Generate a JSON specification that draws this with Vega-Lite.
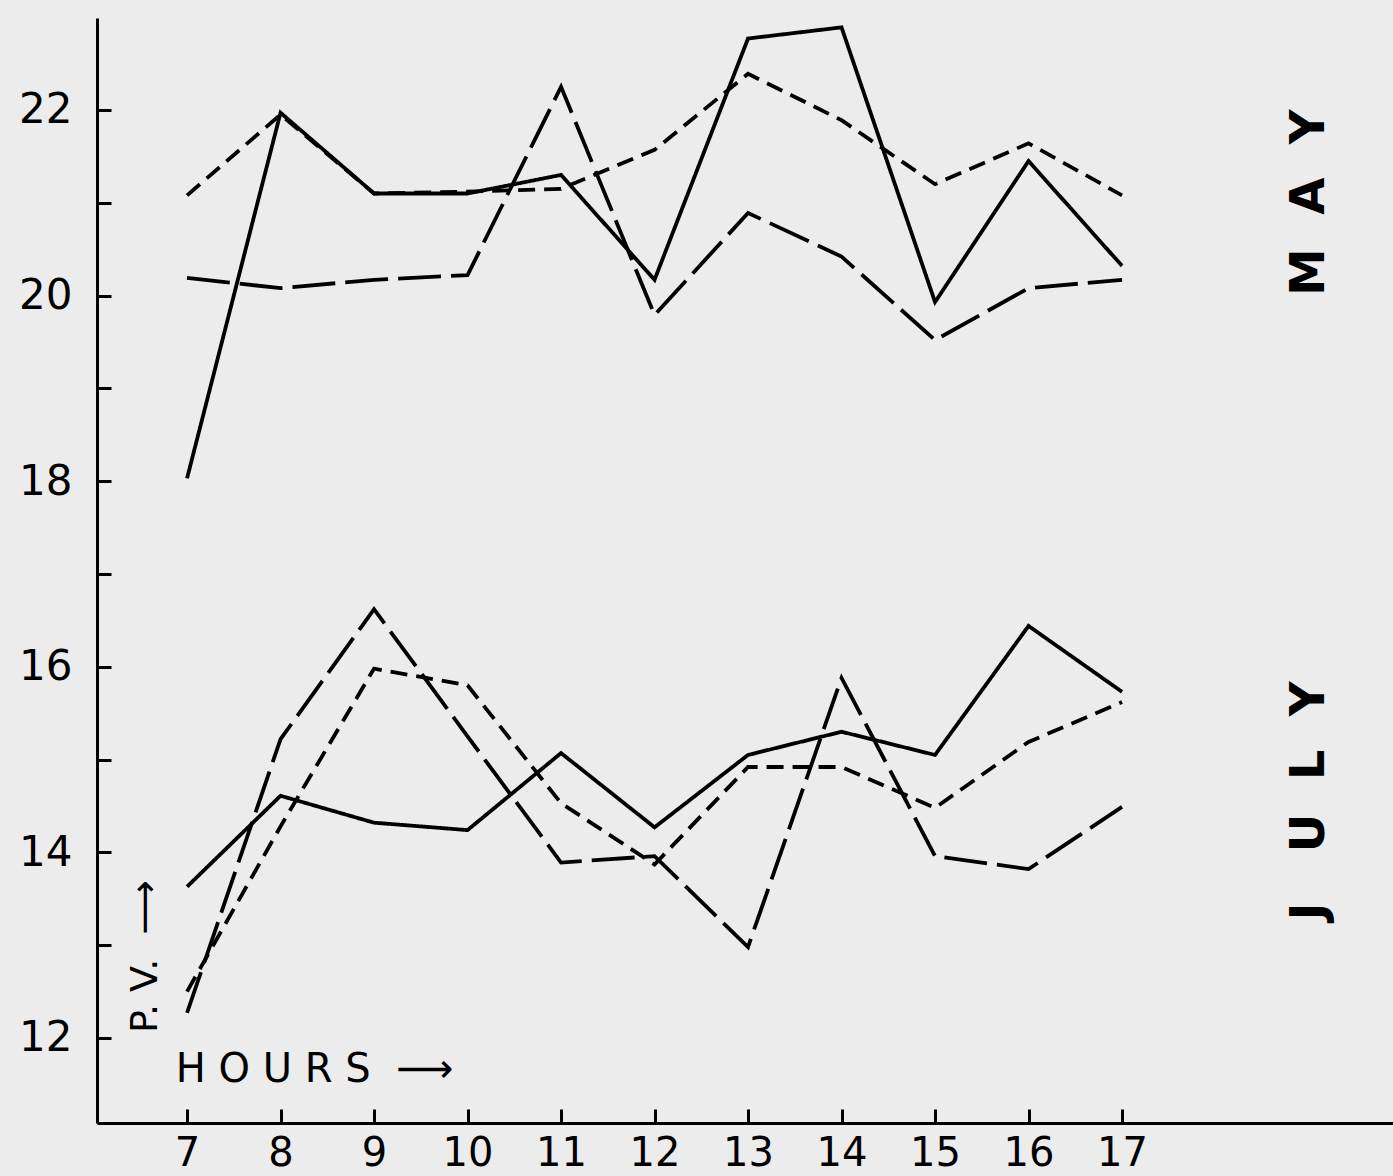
{
  "$schema": "https://vega.github.io/schema/vega-lite/v6.json",
  "width": 1296,
  "height": 1105,
  "autosize": {"type": "none"},
  "padding": {"left": 97, "top": 18, "right": 0, "bottom": 53},
  "background": "#ececec",
  "config": {"view": {"stroke": null}, "font": "DejaVu Sans"},
  "data": {"values": [
    {"month": "May", "curve": "solid", "hour": 7, "pv": 18.03},
    {"month": "May", "curve": "solid", "hour": 8, "pv": 21.97},
    {"month": "May", "curve": "solid", "hour": 9, "pv": 21.10},
    {"month": "May", "curve": "solid", "hour": 10, "pv": 21.10},
    {"month": "May", "curve": "solid", "hour": 11, "pv": 21.30},
    {"month": "May", "curve": "solid", "hour": 12, "pv": 20.17},
    {"month": "May", "curve": "solid", "hour": 13, "pv": 22.77},
    {"month": "May", "curve": "solid", "hour": 14, "pv": 22.89},
    {"month": "May", "curve": "solid", "hour": 15, "pv": 19.93},
    {"month": "May", "curve": "solid", "hour": 16, "pv": 21.45},
    {"month": "May", "curve": "solid", "hour": 17, "pv": 20.32},
    {"month": "May", "curve": "short", "hour": 7, "pv": 21.08},
    {"month": "May", "curve": "short", "hour": 8, "pv": 21.95},
    {"month": "May", "curve": "short", "hour": 9, "pv": 21.10},
    {"month": "May", "curve": "short", "hour": 10, "pv": 21.12},
    {"month": "May", "curve": "short", "hour": 11, "pv": 21.15},
    {"month": "May", "curve": "short", "hour": 12, "pv": 21.57},
    {"month": "May", "curve": "short", "hour": 13, "pv": 22.39},
    {"month": "May", "curve": "short", "hour": 14, "pv": 21.89},
    {"month": "May", "curve": "short", "hour": 15, "pv": 21.20},
    {"month": "May", "curve": "short", "hour": 16, "pv": 21.64},
    {"month": "May", "curve": "short", "hour": 17, "pv": 21.08},
    {"month": "May", "curve": "long", "hour": 7, "pv": 20.19},
    {"month": "May", "curve": "long", "hour": 8, "pv": 20.08},
    {"month": "May", "curve": "long", "hour": 9, "pv": 20.17},
    {"month": "May", "curve": "long", "hour": 10, "pv": 20.22},
    {"month": "May", "curve": "long", "hour": 11, "pv": 22.25},
    {"month": "May", "curve": "long", "hour": 12, "pv": 19.79},
    {"month": "May", "curve": "long", "hour": 13, "pv": 20.89},
    {"month": "May", "curve": "long", "hour": 14, "pv": 20.42},
    {"month": "May", "curve": "long", "hour": 15, "pv": 19.52},
    {"month": "May", "curve": "long", "hour": 16, "pv": 20.08},
    {"month": "May", "curve": "long", "hour": 17, "pv": 20.17},
    {"month": "July", "curve": "solid", "hour": 7, "pv": 13.63},
    {"month": "July", "curve": "solid", "hour": 8, "pv": 14.61},
    {"month": "July", "curve": "solid", "hour": 9, "pv": 14.32},
    {"month": "July", "curve": "solid", "hour": 10, "pv": 14.24},
    {"month": "July", "curve": "solid", "hour": 11, "pv": 15.07},
    {"month": "July", "curve": "solid", "hour": 12, "pv": 14.27},
    {"month": "July", "curve": "solid", "hour": 13, "pv": 15.05},
    {"month": "July", "curve": "solid", "hour": 14, "pv": 15.30},
    {"month": "July", "curve": "solid", "hour": 15, "pv": 15.05},
    {"month": "July", "curve": "solid", "hour": 16, "pv": 16.44},
    {"month": "July", "curve": "solid", "hour": 17, "pv": 15.73},
    {"month": "July", "curve": "short", "hour": 7, "pv": 12.50},
    {"month": "July", "curve": "short", "hour": 8, "pv": 14.28},
    {"month": "July", "curve": "short", "hour": 9, "pv": 15.98},
    {"month": "July", "curve": "short", "hour": 10, "pv": 15.80},
    {"month": "July", "curve": "short", "hour": 11, "pv": 14.53},
    {"month": "July", "curve": "short", "hour": 12, "pv": 13.87},
    {"month": "July", "curve": "short", "hour": 13, "pv": 14.92},
    {"month": "July", "curve": "short", "hour": 14, "pv": 14.92},
    {"month": "July", "curve": "short", "hour": 15, "pv": 14.48},
    {"month": "July", "curve": "short", "hour": 16, "pv": 15.19},
    {"month": "July", "curve": "short", "hour": 17, "pv": 15.62},
    {"month": "July", "curve": "long", "hour": 7, "pv": 12.27},
    {"month": "July", "curve": "long", "hour": 8, "pv": 15.22},
    {"month": "July", "curve": "long", "hour": 9, "pv": 16.62},
    {"month": "July", "curve": "long", "hour": 10, "pv": 15.25},
    {"month": "July", "curve": "long", "hour": 11, "pv": 13.89},
    {"month": "July", "curve": "long", "hour": 12, "pv": 13.96},
    {"month": "July", "curve": "long", "hour": 13, "pv": 12.98},
    {"month": "July", "curve": "long", "hour": 14, "pv": 15.88},
    {"month": "July", "curve": "long", "hour": 15, "pv": 13.96},
    {"month": "July", "curve": "long", "hour": 16, "pv": 13.82},
    {"month": "July", "curve": "long", "hour": 17, "pv": 14.49}
  ]},
  "layer": [
    {
      "mark": {"type": "line", "color": "black", "strokeWidth": 3.8, "strokeCap": "butt", "strokeJoin": "miter"},
      "encoding": {
        "x": {
          "field": "hour", "type": "quantitative",
          "scale": {"domain": [6.037, 19.898], "nice": false, "zero": false},
          "axis": {
            "values": [7, 8, 9, 10, 11, 12, 13, 14, 15, 16, 17],
            "format": "d",
            "tickSize": -14, "tickWidth": 3, "tickColor": "black",
            "domainColor": "black", "domainWidth": 3,
            "labelFontSize": 40, "labelColor": "black", "labelPadding": 24,
            "labelFont": "DejaVu Sans", "labelFlush": false, "labelOverlap": false,
            "grid": false, "title": null
          }
        },
        "y": {
          "field": "pv", "type": "quantitative",
          "scale": {"domain": [11.084, 22.991], "nice": false, "zero": false},
          "axis": {
            "values": [12, 13, 14, 15, 16, 17, 18, 19, 20, 21, 22, 23],
            "format": "d",
            "labelExpr": "datum.value % 2 == 0 && datum.value < 23 ? datum.label : ''",
            "tickSize": -14, "tickWidth": 3, "tickColor": "black",
            "domainColor": "black", "domainWidth": 3,
            "labelFontSize": 42, "labelColor": "black", "labelPadding": 39,
            "labelFont": "DejaVu Sans", "labelFlush": false, "labelOverlap": false,
            "grid": false, "title": null
          }
        },
        "strokeDash": {
          "field": "curve", "type": "nominal",
          "scale": {"domain": ["solid", "long", "short"], "range": [[1, 0], [43, 10], [17, 9]]},
          "legend": null
        },
        "detail": {"field": "month"}
      }
    },
    {
      "data": {"values": [{"t": "H O U R S\u00a0 ⟶"}]},
      "mark": {"type": "text", "align": "left", "baseline": "alphabetic", "fontSize": 40, "color": "black", "font": "DejaVu Sans"},
      "encoding": {"x": {"datum": 6.88}, "y": {"datum": 11.525}, "text": {"field": "t"}}
    },
    {
      "data": {"values": [{"t": "P. V.\u00a0 ⟶"}]},
      "mark": {"type": "text", "align": "left", "baseline": "alphabetic", "angle": 270, "fontSize": 38, "color": "black", "font": "DejaVu Sans"},
      "encoding": {"x": {"datum": 6.679}, "y": {"datum": 12.053}, "text": {"field": "t"}}
    },
    {
      "data": {"values": [{"t": "M\u00a0\u00a0A\u00a0\u00a0Y"}]},
      "mark": {"type": "text", "align": "center", "baseline": "alphabetic", "angle": 270, "fontSize": 48, "fontWeight": "bold", "color": "black", "font": "DejaVu Sans"},
      "encoding": {"x": {"datum": 19.16}, "y": {"datum": 21.0}, "text": {"field": "t"}}
    },
    {
      "data": {"values": [{"t": "J\u00a0\u00a0\u00a0U\u00a0\u00a0L\u00a0\u00a0Y"}]},
      "mark": {"type": "text", "align": "center", "baseline": "alphabetic", "angle": 270, "fontSize": 48, "fontWeight": "bold", "color": "black", "font": "DejaVu Sans"},
      "encoding": {"x": {"datum": 19.16}, "y": {"datum": 14.554}, "text": {"field": "t"}}
    }
  ]
}
